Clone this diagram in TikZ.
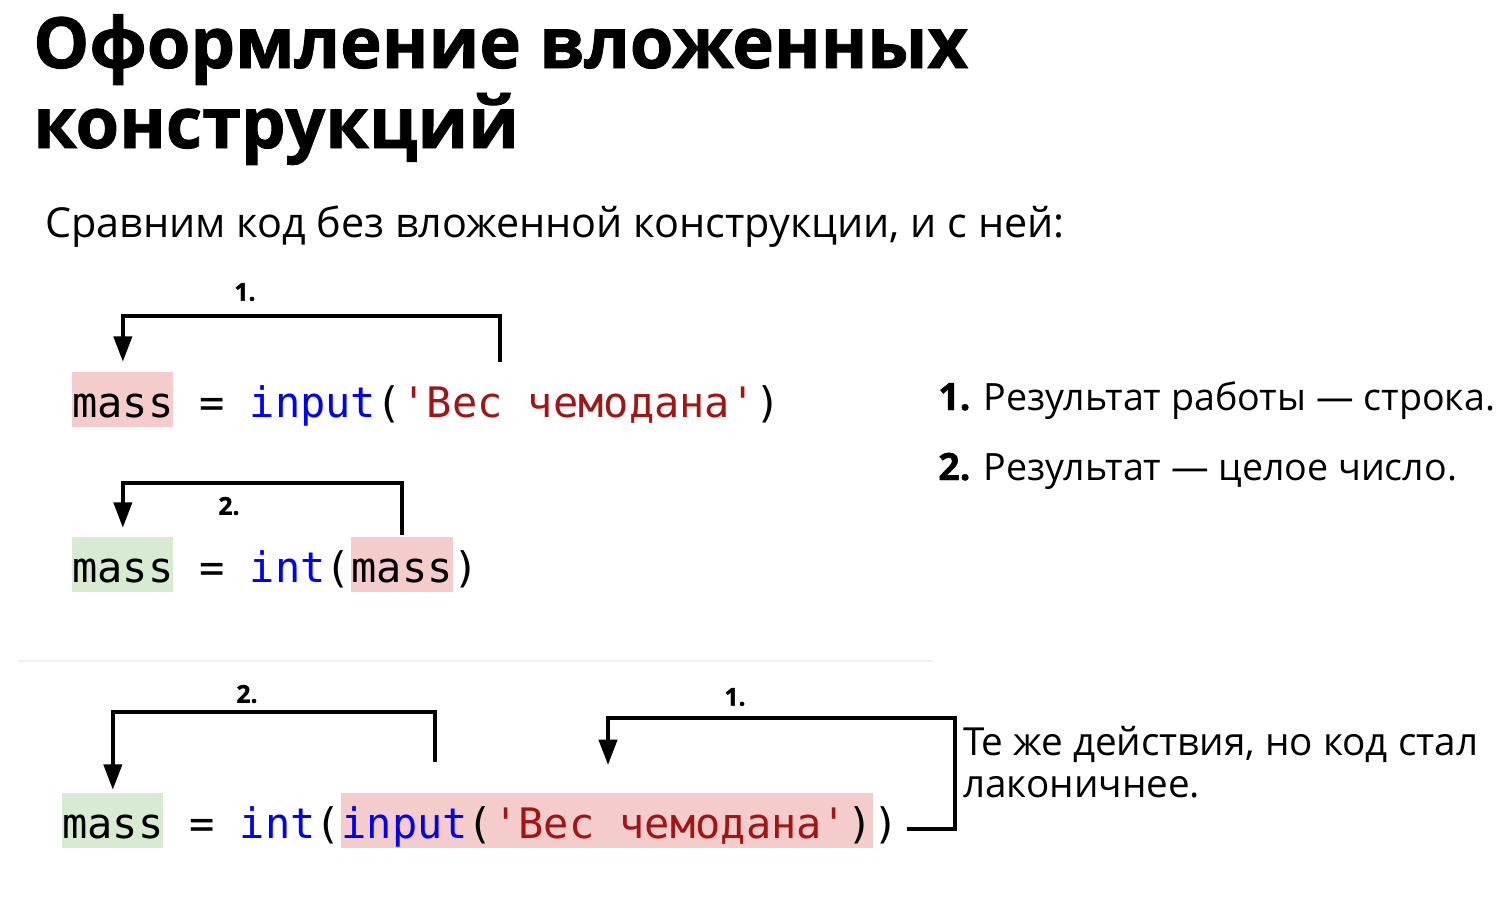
\documentclass[tikz,border=0pt]{standalone}
\usepackage{fontspec}
\setmainfont{Open Sans}[BoldFeatures={FakeBold=1.2}]
\setmonofont{DejaVu Sans Mono}
\usetikzlibrary{arrows.meta}
\definecolor{kwblue}{RGB}{0,0,255}
\definecolor{strred}{RGB}{163,21,21}
\definecolor{hlred}{RGB}{244,204,204}
\definecolor{hlgreen}{RGB}{217,234,211}
\definecolor{sepgray}{RGB}{240,240,240}

\begin{document}
\begin{tikzpicture}[x=0.75pt,y=0.75pt,yscale=-1,xscale=1,
  code/.style={anchor=base west,inner sep=0pt,font=\ttfamily\fontsize{31.5}{36}\selectfont},
  hlbox/.style={code,text height=33.75pt,text depth=7.5pt},
  brk/.style={line width=3pt,-{Triangle[length=19pt,width=13.5pt]}},
  num/.style={font=\bfseries\fontsize{18.5}{22}\selectfont,inner sep=0pt},
  txt/.style={anchor=base west,inner sep=0pt,font=\fontsize{28.2}{34}\selectfont}]
\useasboundingbox (0,0) rectangle (1501,896);

% Title
\node[anchor=base west,inner sep=0pt,font=\bfseries\fontsize{52.9}{60}\selectfont] (title1) at (33,68) {Оформление вложенных};
\node[anchor=base west,inner sep=0pt,font=\bfseries\fontsize{52.9}{60}\selectfont] (title2) at (33,148) {конструкций};
\node[anchor=base west,inner sep=0pt,font=\fontsize{31}{38}\selectfont] (intro) at (45,237) {Сравним код без вложенной конструкции, и с ней:};

% Code without nesting
\node[hlbox,fill=hlred] (mass1) at (72,417) {mass};
\node[code] (line1) at (mass1.base east) {\ = \textcolor{kwblue}{input}(\textcolor{strred}{'Вес чемодана'})};

\node[hlbox,fill=hlgreen] (mass2) at (72,582) {mass};
\node[code] (eq2) at (mass2.base east) {\ = \textcolor{kwblue}{int}(};
\node[hlbox,fill=hlred] (arg2) at (eq2.base east) {mass};
\node[code] (cl2) at (arg2.base east) {)};

% Brackets 1. and 2.
\coordinate (src1) at (500,362);
\draw[brk,shorten >=7.5pt] (src1) -- ++(0,-46) -| (mass1.north);
\node[num] (n1) at (245,292) {1.};
\draw[brk,shorten >=6.75pt,shorten <=1.5pt] (arg2.north) -- ++(0,-54) -| (mass2.north);
\node[num] (n2) at (229,506) {2.};

% Explanations
\node[txt] (res1) at (938,410) {\textbf{1.} Результат работы — строка.};
\node[txt] (res2) at (938,480) {\textbf{2.} Результат — целое число.};

\draw[sepgray,line width=1.5pt] (18,661) -- (933,661);

% Nested code
\node[hlbox,fill=hlgreen] (mass3) at (62,838) {mass};
\node[code] (eq3) at (mass3.base east) {\ = \textcolor{kwblue}{int}(};
\node[hlbox,fill=hlred] (arg3) at (eq3.base east) {\textcolor{kwblue}{input}(\textcolor{strred}{'Вес чемодана'})};
\node[code] (cl3) at (arg3.base east) {)};

\coordinate (src3) at (435,762);
\draw[brk,shorten >=2.25pt] (src3) -- ++(0,-50) -| (mass3.north);
\node[num] (n3) at (247,694) {2.};
\coordinate (src4) at (907,829);
\coordinate (tgt4) at (608,765);
\draw[brk] (src4) -- ++(48,0) -- ++(0,-111) -| (tgt4);
\node[num] (n4) at (735,697) {1.};

\node[txt,font=\fontsize{29}{32}\selectfont] (same1) at (963,755) {Те же действия, но код стал};
\node[txt,font=\fontsize{29}{32}\selectfont] (same2) at (963,797) {лаконичнее.};

\end{tikzpicture}
\end{document}
